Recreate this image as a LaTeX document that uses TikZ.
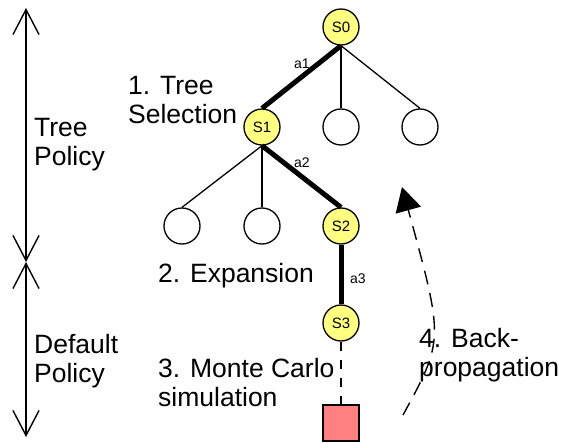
\documentclass[tikz,border=0pt]{standalone}
\usepackage{fontspec}
\setmainfont{Liberation Sans}
\usetikzlibrary{arrows.meta}

\definecolor{stateyellow}{RGB}{255,255,128}
\definecolor{simred}{RGB}{255,128,128}

\tikzset{
  state/.style={circle, draw, line width=1.3pt, minimum size=36pt, inner sep=0pt,
                fill=stateyellow, font=\fontsize{15}{17}\selectfont},
  leaf/.style={circle, draw, line width=1.3pt, minimum size=36pt, inner sep=0pt, fill=white},
  simbox/.style={rectangle, draw, line width=1.3pt, minimum size=36pt, inner sep=0pt, fill=simred},
  phase/.style={font=\fontsize{26.5}{29}\selectfont, align=left, inner sep=0pt, anchor=base west},
  act/.style={font=\fontsize{14}{16}\selectfont, inner sep=0pt},
  chosen/.style={line width=5pt},
  branch/.style={line width=1.3pt},
  policy/.style={line width=1.4pt,
     {Straight Barb[length=25pt,width=26pt]}-{Straight Barb[length=25pt,width=26pt]}},
  rollout/.style={line width=1.3pt, dash pattern=on 9pt off 9pt},
  backup/.style={line width=1.4pt, dash pattern=on 14pt off 9pt,
     -{Triangle[length=24pt,width=26pt]}}
}

\begin{document}
\begin{tikzpicture}[x=1pt,y=-1pt]
\useasboundingbox (0,0) rectangle (566,444);

% policy ranges on the left
\coordinate (ptop) at (26,8);
\coordinate (pmid) at (26,262);
\coordinate (pbot) at (26,437);
\draw[policy] (ptop) -- (pmid);
\draw[policy] (pmid) -- (pbot);
% multi-line labels are placed by the baseline of their last line
\node[phase] (treepol) at (34,166) {Tree\\Policy};
\node[phase] (defpol) at (34,382) {Default\\Policy};

% search tree
\node[state] (s0) at (341,27) {S0};
\node[state] (s1) at (262,127) {S1};
\node[leaf]  (n12) at (341,127) {};
\node[leaf]  (n13) at (420,127) {};
\node[leaf]  (n21) at (182,226) {};
\node[leaf]  (n22) at (262,226) {};
\node[state] (s2) at (341,226) {S2};
\node[state] (s3) at (341,323) {S3};
\node[simbox] (sim) at (341,423) {};

\draw[branch] (s0.south) -- (n12.north);
\draw[branch] (s0.south) -- (n13.north);
\draw[branch] (s1.south) -- (n21.north);
\draw[branch] (s1.south) -- (n22.north);
\draw[chosen] (s0.south) -- (s1.north);
\draw[chosen] (s1.south) -- (s2.north);
\draw[chosen] (s2.south) -- (s3.north);
\draw[rollout] (s3.south) -- (sim.north);

\node[act] (a1) at (302,64) {a1};
\node[act] (a2) at (302,163) {a2};
\node[act] (a3) at (358,279) {a3};

% back-propagation arrow
\coordinate (bstart) at (403,415);
\coordinate (bend) at (402,187);
\draw[backup] (bstart) .. controls (444,340) .. (bend);

% step labels
\node[phase] (sel) at (128,124) {1. Tree\\Selection};
\node[phase] (exp) at (158,283) {2. Expansion};
\node[phase] (mc) at (158,406) {3. Monte Carlo\\simulation};
\node[phase] (bp) at (419,376) {4. Back-\\propagation};
\end{tikzpicture}
\end{document}
